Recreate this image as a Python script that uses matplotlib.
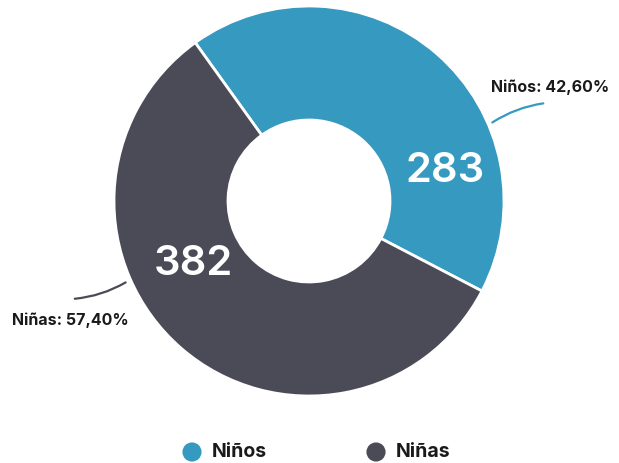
import matplotlib
matplotlib.use("Agg")
import matplotlib.pyplot as plt
from matplotlib.patches import FancyArrowPatch

categories = ["Niños", "Niñas"]
values = [283, 382]
percent_labels = ["Niños: 42,60%", "Niñas: 57,40%"]
colors = ["#3699bf", "#4b4a57"]

plt.rcParams['font.family'] = ['Inter', 'DejaVu Sans']

W, H = 619, 463
fig = plt.figure(figsize=(W / 100, H / 100), dpi=100)
ax = fig.add_axes([0, 0, 1, 1])

cx, cy = 309, H - 201
R = 195
wedges, _ = ax.pie(values, colors=colors, startangle=125.7, counterclock=False,
                   center=(cx, cy), radius=R, frame=True,
                   wedgeprops=dict(width=114, edgecolor="white", linewidth=2))
ax.set_xlim(0, W)
ax.set_ylim(0, H)
ax.axis("off")

# value labels
ax.text(445, H - 171, str(values[0]), color="white", fontsize=30, fontweight="semibold",
        ha="center", va="center")
ax.text(193, H - 264, str(values[1]), color="white", fontsize=30, fontweight="semibold",
        ha="center", va="center")

# percentage labels with leader lines
ax.text(550, H - 87, percent_labels[0], fontsize=11.5, fontweight="bold", color="#1a1a1a",
        ha="center", va="center")
ax.add_patch(FancyArrowPatch((490, H - 124), (546, H - 103), arrowstyle="-",
                             connectionstyle="arc3,rad=-0.12", color=colors[0], lw=1.6))
ax.text(70, H - 320, percent_labels[1], fontsize=11.5, fontweight="bold", color="#1a1a1a",
        ha="center", va="center")
ax.add_patch(FancyArrowPatch((128, H - 281), (72, H - 299), arrowstyle="-",
                             connectionstyle="arc3,rad=-0.12", color=colors[1], lw=1.6))

# legend (drawn manually)
leg_x = [192, 376]
leg_y = H - 452
for x, c, name in zip(leg_x, colors, categories):
    ax.scatter([x], [leg_y], s=190, color=c, edgecolors="none", clip_on=False)
    ax.text(x + 20, leg_y, name, fontsize=14, fontweight="bold", color="#1a1a1a",
            ha="left", va="center")

fig.savefig("out.png", dpi=100)
